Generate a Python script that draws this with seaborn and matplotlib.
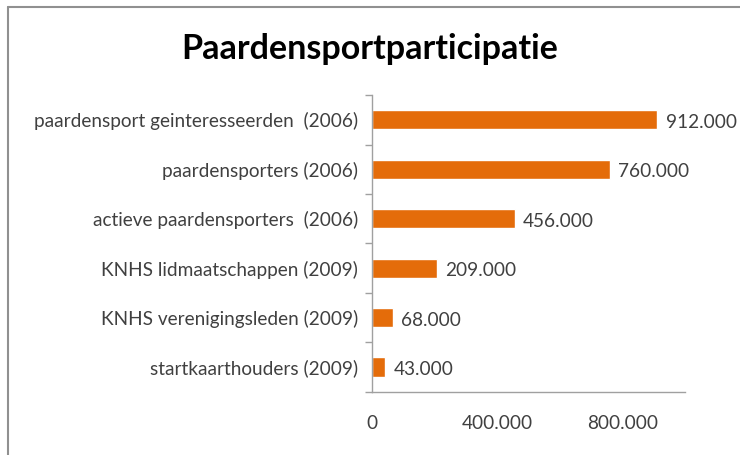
import matplotlib
matplotlib.use('Agg')
import matplotlib.pyplot as plt
import matplotlib.lines as mlines
import seaborn as sns
import pandas as pd

categories = [
    'paardensport geinteresseerden  (2006)',
    'paardensporters (2006)',
    'actieve paardensporters  (2006)',
    'KNHS lidmaatschappen (2009)',
    'KNHS verenigingsleden (2009)',
    'startkaarthouders (2009)',
]
values = [912000, 760000, 456000, 209000, 68000, 43000]
value_labels = ['912.000', '760.000', '456.000', '209.000', '68.000', '43.000']
x_ticks = [0, 400000, 800000]
x_tick_labels = ['0', '400.000', '800.000']

sns.set_theme(style='white')
plt.rcParams['font.family'] = ['Lato', 'DejaVu Sans']

df = pd.DataFrame({'categorie': categories, 'aantal': values})

fig = plt.figure(figsize=(7.4, 4.55), dpi=100)
ax = fig.add_axes([0.5027, 0.139, 0.4230, 0.652])

sns.barplot(data=df, x='aantal', y='categorie', color='#E46C0A',
            saturation=1, width=0.39, ax=ax)

ax.set_xlim(0, 1000000)
ax.set_ylim(5.5, -0.5)
ax.set_xticks(x_ticks)
ax.set_xticklabels(x_tick_labels, fontsize=13.7, color='#404040')
ax.tick_params(axis='y', length=0, labelsize=13.7, labelcolor='#404040', pad=10)
ax.tick_params(axis='x', length=4, direction='inout', color='#A0A0A0', pad=15)
ax.set_yticks([i - 0.5 for i in range(len(categories) + 1)], minor=True)
ax.tick_params(axis='y', which='minor', length=5, direction='out', color='#A0A0A0', left=True)
ax.set_xlabel('')
ax.set_ylabel('')

for s in ['top', 'right']:
    ax.spines[s].set_visible(False)
for s in ['left', 'bottom']:
    ax.spines[s].set_color('#A0A0A0')
    ax.spines[s].set_linewidth(1)

for i, (v, lab) in enumerate(zip(values, value_labels)):
    ax.text(v + 26000, i + 0.05, lab, va='center', ha='left', fontsize=13.7, color='#404040')

fig.text(0.5, 0.893, 'Paardensportparticipatie', ha='center', va='center',
         fontsize=24.5, fontweight='bold', color='black')

# frame like the original screenshot (only top and left edges visible)
fig.add_artist(mlines.Line2D([8 / 740, 1], [1 - 7 / 455, 1 - 7 / 455], color='#909090', lw=1.5))
fig.add_artist(mlines.Line2D([8 / 740, 8 / 740], [0, 1 - 7 / 455], color='#909090', lw=1.5))

fig.savefig('out.png', dpi=100)
